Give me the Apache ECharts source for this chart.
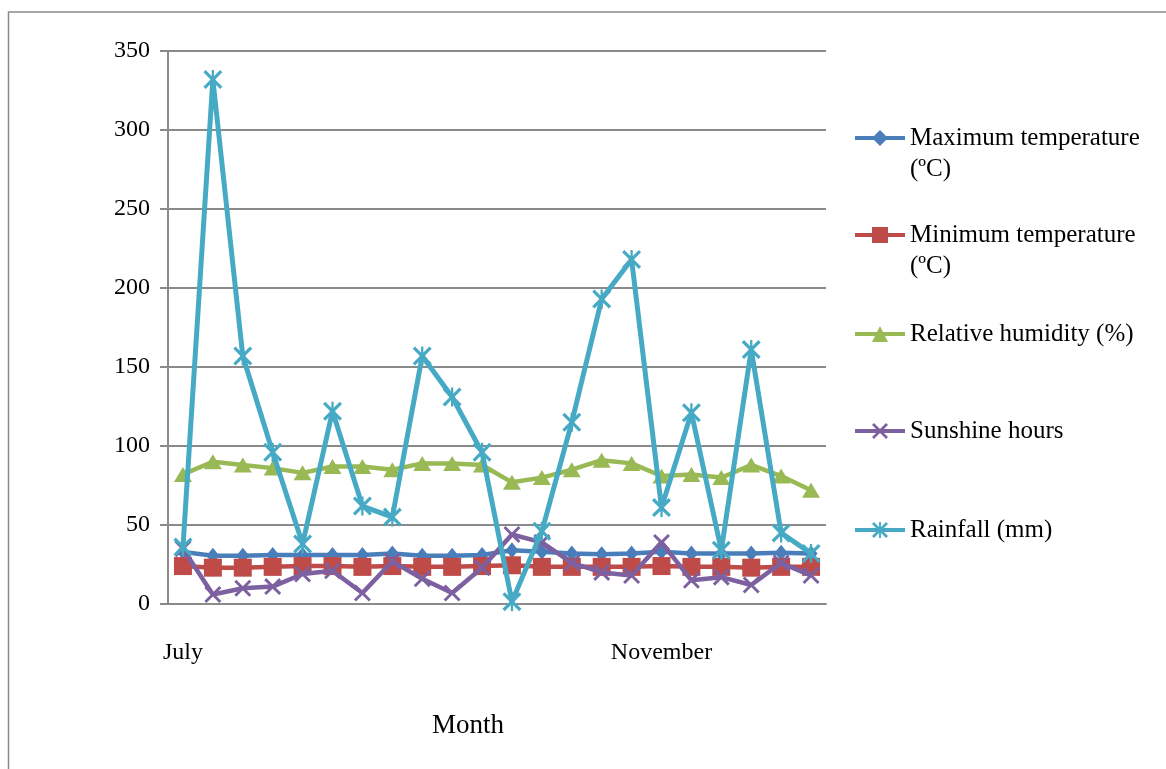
<!DOCTYPE html>
<html>
<head>
<meta charset="utf-8">
<script src="https://cdn.jsdelivr.net/npm/echarts@6/dist/echarts.min.js"></script>
<style>
html,body{margin:0;padding:0;background:#fff;}
#chart{width:1166px;height:769px;}
</style>
</head>
<body>
<div id="chart"></div>
<script>
// ---- data ----
const xLabels = ['July','','','','','','','','','','','','','','','','November','','','','',''];
const maxTemp = [33, 30.5, 30.5, 31, 31, 31, 31, 32, 30.5, 30.5, 31, 34, 33, 32, 31.5, 32, 33, 32, 32, 32, 32.5, 32];
const minTemp = [24, 23, 23, 23.5, 24, 24, 23.5, 24, 23.5, 23.5, 24, 24.5, 23.5, 23.5, 23.5, 23.5, 24, 23.5, 23.5, 23, 23.5, 23.5];
const humidity = [82, 90, 88, 86, 83, 87, 87, 85, 89, 89, 88, 77, 80, 85, 91, 89, 81, 82, 80, 88, 81, 72];
const sunshine = [35, 6, 10, 11, 19, 21, 7, 27, 16, 7, 23, 44, 39, 26, 20, 18, 39, 15, 17, 12, 26, 18];
const rainfall = [36, 332, 157, 96, 38, 122, 62, 55, 157, 131, 96, 1.5, 46, 115, 193, 218, 61, 121, 34, 161, 45, 32];
const yTicks = {min: 0, max: 350, interval: 50};
const seriesNames = ['Maximum temperature (ºC)', 'Minimum temperature (ºC)', 'Relative humidity (%)', 'Sunshine hours', 'Rainfall (mm)'];
const legendTexts = ['\nMaximum temperature\n(ºC)', '\nMinimum temperature\n(ºC)', 'Relative humidity (%)', 'Sunshine hours', 'Rainfall (mm)'];

const FONT = 'Liberation Serif';
const colors = ['#4A7EBB', '#BE4B48', '#98B954', '#7D60A0', '#46AAC5'];
const xPath = 'path://M0,1.2 L1.2,0 L5,3.8 L8.8,0 L10,1.2 L6.2,5 L10,8.8 L8.8,10 L5,6.2 L1.2,10 L0,8.8 L3.8,5 Z';
const starPath = 'path://M0,1.2 L1.2,0 L5,3.8 L8.8,0 L10,1.2 L6.2,5 L10,8.8 L8.8,10 L5,6.2 L1.2,10 L0,8.8 L3.8,5 Z M4.4,0 L5.6,0 L5.6,10 L4.4,10 Z';
const symbols = ['diamond', 'rect', 'triangle', xPath, starPath];
const symbolSizes = [[13, 16], 18, [18, 15], 17, 19];
const lineWidths = [4.5, 4.5, 4.5, 4.5, 5];
const dataArr = [maxTemp, minTemp, humidity, sunshine, rainfall];

const LH = 31;
const legendCenters = [138, 235, 334, 431, 530];
const legends = seriesNames.map((n, i) => {
  const lines = legendTexts[i].split('\n').length;
  return {
    data: [n],
    orient: 'vertical',
    left: 853,
    top: legendCenters[i] - lines * LH / 2,
    padding: 0,
    itemWidth: 50,
    itemHeight: 20,
    selectedMode: false,
    lineStyle: {width: 4},
    formatter: () => legendTexts[i],
    textStyle: {fontFamily: FONT, fontSize: 25, color: '#000', lineHeight: LH}
  };
});

const chart = echarts.init(document.getElementById('chart'));
chart.setOption({
  animation: false,
  backgroundColor: '#fff',
  color: colors,
  title: {
    text: 'Month', left: 427, top: 707,
    textStyle: {fontFamily: FONT, fontSize: 27, fontWeight: 'normal', color: '#000'}
  },
  legend: legends,
  grid: {left: 168, right: 340, top: 51, bottom: 165},
  xAxis: {
    type: 'category',
    data: xLabels,
    boundaryGap: true,
    axisLine: {lineStyle: {color: '#8a8a8a', width: 2}},
    axisTick: {show: false},
    axisLabel: {interval: 0, margin: 37, fontFamily: FONT, fontSize: 24, color: '#000'},
    splitLine: {show: false}
  },
  yAxis: {
    type: 'value',
    min: yTicks.min, max: yTicks.max, interval: yTicks.interval,
    axisLine: {show: true, lineStyle: {color: '#8a8a8a', width: 2}},
    axisTick: {show: true, length: 8, lineStyle: {color: '#8a8a8a', width: 2}},
    axisLabel: {margin: 18, fontFamily: FONT, fontSize: 24, color: '#000'},
    splitLine: {lineStyle: {color: '#8a8a8a', width: 2}}
  },
  graphic: [{
    type: 'rect',
    shape: {x: 8.5, y: 12, width: 1300, height: 900},
    style: {fill: 'none', stroke: '#8a8a8a', lineWidth: 1.5},
    silent: true, z: -1
  }],
  series: seriesNames.map((n, i) => ({
    name: n,
    type: 'line',
    data: dataArr[i],
    symbol: symbols[i],
    symbolSize: symbolSizes[i],
    showAllSymbol: true,
    lineStyle: {width: lineWidths[i], color: colors[i]},
    itemStyle: {color: colors[i]},
    z: 2 + i
  }))
});
</script>
</body>
</html>
